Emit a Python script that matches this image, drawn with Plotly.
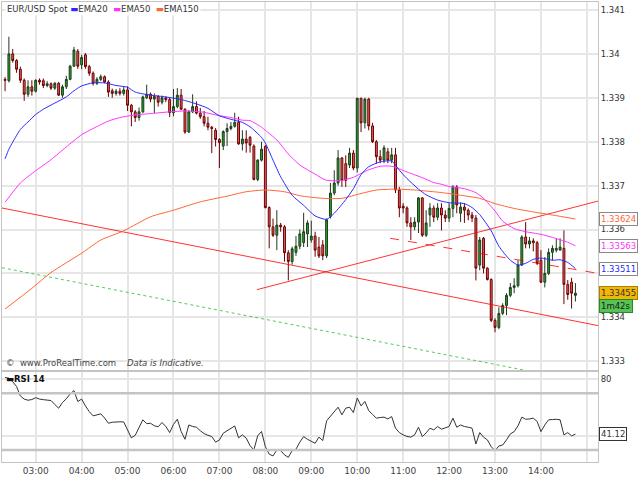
import pandas as pd
import plotly.graph_objects as go
from plotly.subplots import make_subplots

DAY = "2013-11-20"
FIRST_BAR = "02:20"          # 5-minute bars

# --- EUR/USD 5-min candles ---
open_ = [1.33942, 1.33939, 1.34000, 1.33985, 1.33965, 1.33940, 1.33908, 1.33925, 1.33915, 1.33940,
         1.33939, 1.33928, 1.33932, 1.33922, 1.33933, 1.33906, 1.33925, 1.33942, 1.33972, 1.34006,
         1.33975, 1.33998, 1.33971, 1.33956, 1.33933, 1.33942, 1.33948, 1.33936, 1.33916, 1.33910,
         1.33915, 1.33910, 1.33918, 1.33883, 1.33868, 1.33855, 1.33868, 1.33900, 1.33908, 1.33897,
         1.33903, 1.33890, 1.33900, 1.33896, 1.33866, 1.33880, 1.33906, 1.33874, 1.33822, 1.33868,
         1.33880, 1.33865, 1.33857, 1.33842, 1.33833, 1.33826, 1.33805, 1.33790, 1.33823, 1.33830,
         1.33835, 1.33844, 1.33795, 1.33806, 1.33810, 1.33790, 1.33714, 1.33758, 1.33789, 1.33650,
         1.33606, 1.33587, 1.33610, 1.33606, 1.33547, 1.33527, 1.33548, 1.33562, 1.33570, 1.33590,
         1.33576, 1.33585, 1.33560, 1.33565, 1.33540, 1.33630, 1.33683, 1.33706, 1.33763, 1.33750,
         1.33747, 1.33774, 1.33740, 1.33899, 1.33843, 1.33897, 1.33836, 1.33800, 1.33766, 1.33758,
         1.33777, 1.33758, 1.33770, 1.33690, 1.33653, 1.33649, 1.33615, 1.33606, 1.33617, 1.33672,
         1.33587, 1.33633, 1.33649, 1.33628, 1.33649, 1.33633, 1.33626, 1.33648, 1.33697, 1.33637,
         1.33651, 1.33644, 1.33633, 1.33626, 1.33519, 1.33580, 1.33512, 1.33486, 1.33393, 1.33377,
         1.33409, 1.33427, 1.33450, 1.33468, 1.33472, 1.33519, 1.33583, 1.33567, 1.33574, 1.33570,
         1.33530, 1.33480, 1.33500, 1.33548, 1.33553, 1.33553, 1.33557, 1.33475, 1.33480, 1.33450]
high = [1.33947, 1.34039, 1.34011, 1.33988, 1.33971, 1.33944, 1.33940, 1.33940, 1.33942, 1.33944,
        1.33944, 1.33938, 1.33935, 1.33936, 1.33936, 1.33930, 1.33950, 1.33975, 1.34016, 1.34011,
        1.33998, 1.34002, 1.33975, 1.33960, 1.33947, 1.33953, 1.33951, 1.33940, 1.33921, 1.33920,
        1.33922, 1.33925, 1.33926, 1.33886, 1.33872, 1.33878, 1.33905, 1.33930, 1.33912, 1.33910,
        1.33906, 1.33905, 1.33903, 1.33900, 1.33920, 1.33922, 1.33920, 1.33876, 1.33872, 1.33908,
        1.33892, 1.33877, 1.33870, 1.33857, 1.33836, 1.33831, 1.33808, 1.33826, 1.33842, 1.33845,
        1.33866, 1.33857, 1.33826, 1.33826, 1.33813, 1.33794, 1.33760, 1.33800, 1.33792, 1.33653,
        1.33625, 1.33644, 1.33615, 1.33610, 1.33553, 1.33561, 1.33585, 1.33600, 1.33638, 1.33621,
        1.33620, 1.33595, 1.33583, 1.33576, 1.33625, 1.33706, 1.33735, 1.33781, 1.33765, 1.33769,
        1.33786, 1.33781, 1.33900, 1.33900, 1.33900, 1.33900, 1.33843, 1.33804, 1.33781, 1.33792,
        1.33786, 1.33786, 1.33786, 1.33697, 1.33660, 1.33653, 1.33628, 1.33628, 1.33674, 1.33674,
        1.33644, 1.33660, 1.33655, 1.33660, 1.33660, 1.33644, 1.33660, 1.33701, 1.33701, 1.33662,
        1.33660, 1.33648, 1.33640, 1.33633, 1.33583, 1.33583, 1.33514, 1.33489, 1.33398, 1.33423,
        1.33432, 1.33455, 1.33478, 1.33489, 1.33530, 1.33587, 1.33617, 1.33583, 1.33580, 1.33574,
        1.33553, 1.33537, 1.33557, 1.33564, 1.33580, 1.33580, 1.33598, 1.33485, 1.33490, 1.33478]
low = [1.33915, 1.33935, 1.33980, 1.33957, 1.33934, 1.33893, 1.33902, 1.33905, 1.33912, 1.33930,
       1.33922, 1.33924, 1.33918, 1.33918, 1.33904, 1.33900, 1.33920, 1.33940, 1.33970, 1.33966,
       1.33965, 1.33966, 1.33950, 1.33928, 1.33929, 1.33938, 1.33933, 1.33902, 1.33900, 1.33905,
       1.33905, 1.33905, 1.33870, 1.33835, 1.33845, 1.33848, 1.33865, 1.33897, 1.33890, 1.33865,
       1.33880, 1.33885, 1.33890, 1.33856, 1.33858, 1.33876, 1.33872, 1.33818, 1.33820, 1.33865,
       1.33862, 1.33852, 1.33835, 1.33826, 1.33774, 1.33789, 1.33740, 1.33781, 1.33790, 1.33826,
       1.33832, 1.33793, 1.33780, 1.33775, 1.33775, 1.33712, 1.33710, 1.33755, 1.33648, 1.33557,
       1.33583, 1.33553, 1.33595, 1.33527, 1.33484, 1.33520, 1.33540, 1.33555, 1.33560, 1.33560,
       1.33570, 1.33538, 1.33535, 1.33530, 1.33535, 1.33625, 1.33678, 1.33700, 1.33697, 1.33697,
       1.33740, 1.33735, 1.33730, 1.33822, 1.33830, 1.33826, 1.33797, 1.33750, 1.33751, 1.33751,
       1.33751, 1.33751, 1.33683, 1.33628, 1.33637, 1.33606, 1.33576, 1.33598, 1.33592, 1.33583,
       1.33583, 1.33606, 1.33617, 1.33621, 1.33598, 1.33617, 1.33617, 1.33628, 1.33637, 1.33617,
       1.33615, 1.33621, 1.33617, 1.33484, 1.33507, 1.33500, 1.33484, 1.33389, 1.33366, 1.33373,
       1.33405, 1.33405, 1.33446, 1.33455, 1.33468, 1.33517, 1.33557, 1.33557, 1.33550, 1.33519,
       1.33478, 1.33468, 1.33496, 1.33530, 1.33548, 1.33553, 1.33430, 1.33440, 1.33420, 1.33436]
close = [1.33940, 1.34000, 1.33985, 1.33965, 1.33940, 1.33908, 1.33925, 1.33915, 1.33940, 1.33936,
         1.33928, 1.33932, 1.33922, 1.33933, 1.33906, 1.33925, 1.33942, 1.33972, 1.34009, 1.33972,
         1.33992, 1.33971, 1.33956, 1.33933, 1.33942, 1.33948, 1.33936, 1.33913, 1.33910, 1.33915,
         1.33910, 1.33918, 1.33883, 1.33868, 1.33855, 1.33868, 1.33902, 1.33908, 1.33897, 1.33903,
         1.33890, 1.33900, 1.33896, 1.33866, 1.33880, 1.33906, 1.33874, 1.33822, 1.33868, 1.33880,
         1.33865, 1.33857, 1.33842, 1.33833, 1.33830, 1.33805, 1.33798, 1.33823, 1.33830, 1.33835,
         1.33844, 1.33795, 1.33806, 1.33797, 1.33792, 1.33714, 1.33758, 1.33783, 1.33650, 1.33606,
         1.33587, 1.33610, 1.33606, 1.33547, 1.33527, 1.33556, 1.33562, 1.33590, 1.33595, 1.33615,
         1.33585, 1.33553, 1.33540, 1.33540, 1.33622, 1.33683, 1.33706, 1.33763, 1.33712, 1.33712,
         1.33774, 1.33740, 1.33899, 1.33843, 1.33897, 1.33836, 1.33800, 1.33766, 1.33758, 1.33786,
         1.33758, 1.33770, 1.33690, 1.33649, 1.33649, 1.33615, 1.33606, 1.33617, 1.33672, 1.33587,
         1.33615, 1.33649, 1.33628, 1.33649, 1.33633, 1.33626, 1.33648, 1.33697, 1.33656, 1.33651,
         1.33644, 1.33633, 1.33626, 1.33512, 1.33576, 1.33512, 1.33486, 1.33393, 1.33377, 1.33409,
         1.33427, 1.33450, 1.33468, 1.33472, 1.33519, 1.33583, 1.33567, 1.33574, 1.33570, 1.33523,
         1.33480, 1.33500, 1.33548, 1.33557, 1.33557, 1.33560, 1.33475, 1.33452, 1.33455, 1.33455]

# moving averages, read at a subset of bars (bar index -> value)
ema20_bar = [0, 1, 2, 4, 6, 8, 10, 13, 16, 18, 20, 23, 26, 29, 32, 34, 38, 42, 46, 50, 53, 56, 59,
             62, 64, 67, 68, 70, 72, 75, 78, 81, 84, 86, 89, 91, 93, 95, 98, 101, 103, 105, 108,
             110, 113, 116, 120, 122, 124, 127, 129, 132, 134, 136, 138, 140, 143, 145, 147, 149]
ema20 = [1.33761, 1.33783, 1.33799, 1.33828, 1.33845, 1.33862, 1.33874, 1.33888, 1.33902, 1.33916,
         1.33927, 1.33934, 1.33934, 1.33928, 1.33924, 1.33913, 1.33906, 1.33902, 1.33896, 1.33886,
         1.33876, 1.33859, 1.33851, 1.33844, 1.33834, 1.33810, 1.33797, 1.33758, 1.33720, 1.33678,
         1.33655, 1.33631, 1.33623, 1.33637, 1.33668, 1.33693, 1.33725, 1.33743, 1.33754, 1.33756,
         1.33735, 1.33716, 1.33692, 1.33679, 1.33667, 1.33661, 1.33659, 1.33650, 1.33634, 1.33597,
         1.33562, 1.33530, 1.33519, 1.33523, 1.33532, 1.33535, 1.33530, 1.33531, 1.33525, 1.33511]
ema50_bar = [0, 4, 8, 12, 16, 20, 23, 27, 30, 34, 38, 43, 47, 52, 55, 59, 62, 64, 67, 68, 71, 74,
             75, 77, 81, 84, 88, 91, 95, 98, 101, 105, 109, 112, 114, 116, 120, 123, 125, 128, 130,
             133, 136, 140, 143, 147, 149]
ema50 = [1.33662, 1.33706, 1.33734, 1.33759, 1.33788, 1.33816, 1.33830, 1.33847, 1.33855, 1.33861,
         1.33864, 1.33868, 1.33870, 1.33867, 1.33861, 1.33855, 1.33849, 1.33848, 1.33833, 1.33826,
         1.33804, 1.33772, 1.33763, 1.33747, 1.33726, 1.33712, 1.33712, 1.33719, 1.33736, 1.33744,
         1.33744, 1.33731, 1.33718, 1.33707, 1.33703, 1.33698, 1.33693, 1.33684, 1.33671, 1.33642,
         1.33619, 1.33602, 1.33595, 1.33589, 1.33582, 1.33571, 1.33563]
ema150_bar = [0, 7, 12, 20, 25, 31, 38, 44, 51, 58, 63, 68, 73, 77, 83, 88, 93, 97, 102, 107, 112,
              116, 119, 124, 128, 133, 138, 143, 149]
ema150 = [1.33419, 1.33466, 1.33502, 1.33546, 1.33576, 1.33597, 1.33629, 1.33644, 1.33663, 1.33676,
          1.33686, 1.33690, 1.33686, 1.33677, 1.33671, 1.33671, 1.33682, 1.33690, 1.33692, 1.33690,
          1.33686, 1.33682, 1.33678, 1.33671, 1.33659, 1.33648, 1.33640, 1.33633, 1.33624]

rsi14 = [81.0, 80.6, 78.0, 74.7, 68.0, 65.8, 65.0, 65.5, 66.8, 65.8,
         65.4, 65.0, 64.8, 62.0, 59.4, 63.4, 66.0, 69.5, 71.8, 64.1,
         65.8, 61.0, 57.0, 54.0, 54.8, 55.4, 52.5, 48.8, 49.5, 49.8,
         49.8, 49.7, 43.5, 38.5, 40.3, 46.0, 51.2, 48.5, 48.8, 47.0,
         46.3, 49.3, 46.5, 42.2, 48.0, 51.6, 43.0, 37.5, 47.6, 46.5,
         46.0, 43.5, 41.5, 40.3, 39.4, 35.5, 37.0, 41.8, 43.5, 44.6,
         46.9, 38.5, 40.6, 38.3, 33.0, 30.0, 40.0, 43.0, 32.3, 27.0,
         25.8, 30.0, 29.5, 26.5, 24.8, 29.5, 30.5, 35.5, 39.4, 37.5,
         36.0, 34.7, 39.0, 36.6, 50.5, 53.5, 56.5, 60.1, 54.7, 59.4,
         60.1, 56.3, 66.5, 61.0, 64.1, 57.7, 55.0, 52.4, 52.8, 53.1,
         51.8, 53.5, 45.3, 42.2, 40.6, 39.5, 39.0, 40.6, 46.0, 39.4,
         42.0, 45.3, 44.1, 46.5, 44.6, 45.8, 46.5, 52.4, 46.0, 47.6,
         46.5, 46.0, 45.3, 34.2, 42.2, 39.0, 37.1, 32.3, 29.5, 32.8,
         33.5, 37.1, 41.3, 42.9, 47.0, 53.1, 51.6, 51.8, 52.4, 50.0,
         42.9, 47.6, 51.2, 51.4, 51.6, 51.2, 40.6, 42.2, 39.9, 41.12]

# hand-drawn trend lines (time, price end points)
support_time = ["02:16", "15:15"]
support_price = [1.33649, 1.33381]
rising_time = ["07:49", "15:15"]
rising_price = [1.33463, 1.33665]
channel_time = ["10:43", "15:15"]
channel_price = [1.33580, 1.33500]
green_time = ["02:16", "13:52"]
green_price = [1.33513, 1.33275]

hour_ticks = ["03:00", "04:00", "05:00", "06:00", "07:00", "08:00", "09:00",
              "10:00", "11:00", "12:00", "13:00", "14:00", "15:00"]
hour_labels = ["03:00", "04:00", "05:00", "06:00", "07:00", "08:00", "09:00",
               "10:00", "11:00", "12:00", "13:00", "14:00", ""]
price_ticks = [1.333, 1.334, 1.335, 1.336, 1.337, 1.338, 1.339, 1.340, 1.341]
price_labels = ["1.333", "1.334", "1.335", "1.336", "1.337", "1.338", "1.339", "1.34", "1.341"]
rsi_ticks = [40, 80]
rsi_bands = [30, 70]
countdown = "1m42s"

FONT = "DejaVu Sans"
GRID = "#e6e6e6"
C20, C50, C150 = "#2a2aff", "#ff33ff", "#ff6633"


def at(day_times):
    return pd.to_datetime([f"{DAY} {t}" for t in day_times])


bars = pd.date_range(f"{DAY} {FIRST_BAR}", periods=len(close), freq="5min")

fig = make_subplots(rows=2, cols=1, shared_xaxes=True, vertical_spacing=0.004,
                    row_heights=[0.8, 0.2])

fig.add_trace(go.Candlestick(
    x=bars, open=open_, high=high, low=low, close=close,
    increasing=dict(fillcolor="#22a822", line=dict(color="#203a20", width=1)),
    decreasing=dict(fillcolor="#e06262", line=dict(color="#6e0000", width=1)),
    whiskerwidth=0, showlegend=False), row=1, col=1)

for t, p, col, dash in [(support_time, support_price, "rgba(255,0,0,0.8)", "solid"),
                        (rising_time, rising_price, "rgba(255,0,0,0.8)", "solid"),
                        (channel_time, channel_price, "rgba(255,0,0,0.8)", "dash"),
                        (green_time, green_price, "rgba(40,190,40,0.8)", "dot")]:
    fig.add_trace(go.Scatter(x=at(t), y=p, mode="lines", showlegend=False,
                             line=dict(color=col, width=1, dash=dash)), row=1, col=1)

for idx, vals, col in [(ema150_bar, ema150, C150), (ema50_bar, ema50, C50), (ema20_bar, ema20, C20)]:
    fig.add_trace(go.Scatter(x=bars[idx], y=vals, mode="lines", showlegend=False,
                             line=dict(color=col, width=1, shape="spline", smoothing=0.6)),
                  row=1, col=1)

fig.add_trace(go.Scatter(x=bars, y=rsi14, mode="lines", showlegend=False,
                         line=dict(color="#333333", width=1)), row=2, col=1)

for lvl in rsi_bands:
    fig.add_hline(y=lvl, line=dict(color="#c4c4c4", width=2.5), row=2, col=1)

x_range = [f"{DAY} 02:16:00", f"{DAY} 15:14:30"]
axis_common = dict(showline=True, linecolor="#c4c4c4", linewidth=1, mirror=True,
                   showgrid=True, gridcolor=GRID, gridwidth=1.5, zeroline=False, ticks="")
fig.update_xaxes(range=x_range, tickvals=at(hour_ticks), ticktext=hour_labels,
                 rangeslider_visible=False, **axis_common)
fig.update_xaxes(showticklabels=False, row=1, col=1)
fig.update_xaxes(tickfont=dict(family=FONT, size=9, color="#444"), row=2, col=1)

fig.update_yaxes(side="right", tickfont=dict(family=FONT, size=8.5, color="#333"), **axis_common)
fig.update_yaxes(range=[1.332800, 1.341182], tickvals=price_ticks, ticktext=price_labels,
                 domain=[0.2, 1.0], row=1, col=1)
fig.update_yaxes(range=[21.5, 84.9], tickvals=rsi_ticks, domain=[0.0, 0.1957], row=2, col=1)

legend_txt = (f"EUR/USD Spot <span style='color:{C20}'>▬</span>EMA20  "
              f"<span style='color:{C50}'>▬</span>EMA50  "
              f"<span style='color:{C150}'>▬</span>EMA150")
ann = [
    dict(text=legend_txt, xref="paper", yref="paper", x=0, y=1, xanchor="left", yanchor="top",
         xshift=3, showarrow=False, bgcolor="white", font=dict(family=FONT, size=8.5, color="#333")),
    dict(text="©  www.ProRealTime.com    <i>Data is Indicative.</i>", xref="paper", yref="paper",
         x=0, y=0.2, xanchor="left", yanchor="bottom", xshift=2, yshift=0, showarrow=False,
         font=dict(family=FONT, size=8.5, color="#444")),
    dict(text="▬<b>RSI 14</b>", xref="paper", yref="paper", x=0, y=0.1957, xanchor="left",
         yanchor="top", xshift=2, showarrow=False, font=dict(family=FONT, size=8.5, color="#111")),
]
boxes = [
    (ema150[-1], f"{ema150[-1]:.5f}", C150, "white", "#888888", 0, "y"),
    (ema50[-1], f"{ema50[-1]:.5f}", C50, "white", "#888888", 0, "y"),
    (ema20[-1], f"{ema20[-1]:.5f}", C20, "white", "#888888", 0, "y"),
    (close[-1], f"{close[-1]:.5f}", "#333333", "#f2b705", "#b08000", 0, "y"),
    (close[-1], countdown, "#1a1a1a", "#55c455", "#2a862a", -13, "y"),
    (rsi14[-1], f"{rsi14[-1]:.2f}", "#333333", "white", "#333333", 0, "y2"),
]
for val, txt, fc, bg, bc, shift, yref in boxes:
    ann.append(dict(text=txt, xref="paper", yref=yref, x=1, y=val, xanchor="left",
                    yanchor="middle", xshift=1, yshift=shift, showarrow=False, bgcolor=bg,
                    bordercolor=bc, borderwidth=1, borderpad=1,
                    font=dict(family=FONT, size=8.5, color=fc)))

fig.update_layout(width=640, height=480, margin=dict(l=2, r=42, t=2, b=18),
                  paper_bgcolor="white", plot_bgcolor="white", showlegend=False,
                  annotations=ann, hovermode=False)

# page has a default 8px body margin; drop it so the 640x480 figure fills the window
fig.write_html("out.html", config={"displayModeBar": False},
               post_script="document.body.style.margin='0';")
